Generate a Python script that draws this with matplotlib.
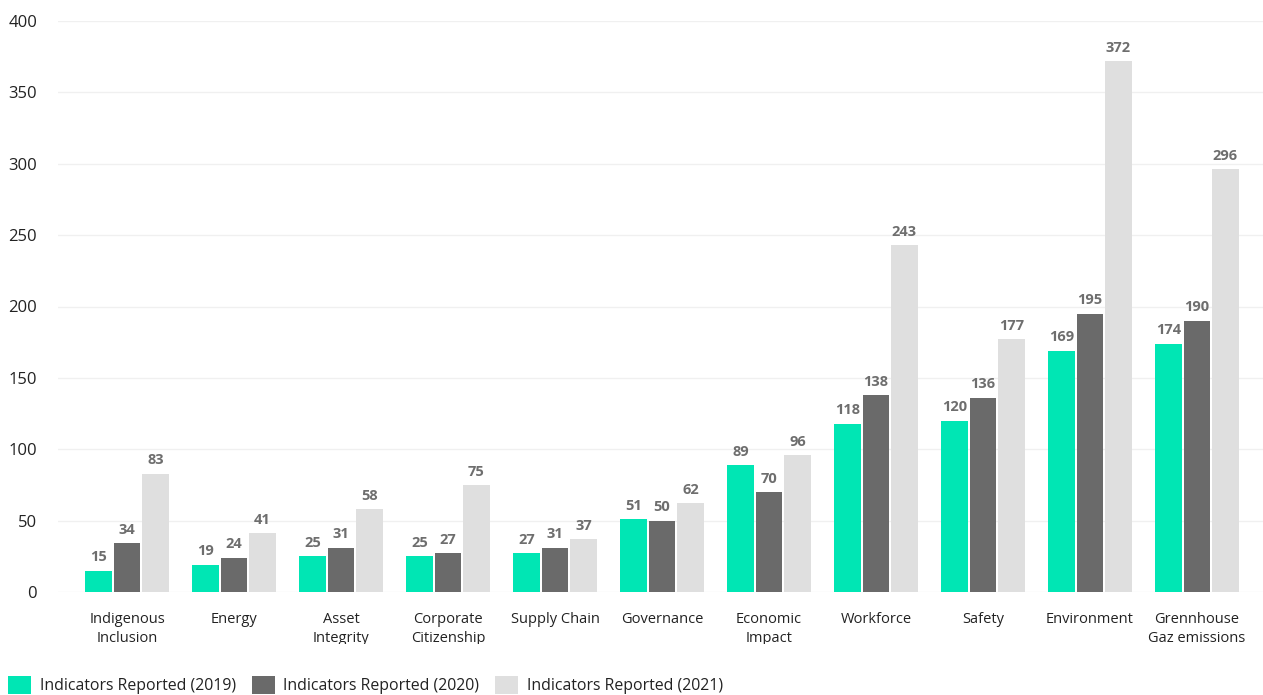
import matplotlib
matplotlib.use("Agg")
import matplotlib.pyplot as plt
from matplotlib.patches import Patch
from matplotlib.transforms import Bbox, TransformedBbox, blended_transform_factory
import numpy as np

categories = ["Indigenous\nInclusion", "Energy", "Asset\nIntegrity", "Corporate\nCitizenship",
              "Supply Chain", "Governance", "Economic\nImpact", "Workforce", "Safety",
              "Environment", "Grennhouse\nGaz emissions"]
values_2019 = [15, 19, 25, 25, 27, 51, 89, 118, 120, 169, 174]
values_2020 = [34, 24, 31, 27, 31, 50, 70, 138, 136, 195, 190]
values_2021 = [83, 41, 58, 75, 37, 62, 96, 243, 177, 372, 296]
series_labels = ["Indicators Reported (2019)", "Indicators Reported (2020)",
                 "Indicators Reported (2021)"]
colors = ["#00E6B4", "#6A6A6A", "#DFDFDF"]

plt.rcParams["font.family"] = ["Open Sans", "DejaVu Sans"]

W, H = 1263, 695
fig = plt.figure(figsize=(W / 100, H / 100), dpi=100)
ax = fig.add_axes([58 / W, (H - 592) / H, 1205 / W, (592 - 21) / H])

x = np.arange(len(categories))
width = 0.245
offset = 0.266
for k, vals in enumerate([values_2019, values_2020, values_2021]):
    pos = x + (k - 1) * offset
    bars = ax.bar(pos, vals, width=width, color=colors[k], zorder=2)
    for b, v in zip(bars, vals):
        ax.text(b.get_x() + b.get_width() / 2, v + 4.5, str(v), ha="center", va="bottom",
                fontsize=10.5, fontweight="bold", color="#6E6E6E")

ax.set_ylim(0, 400)
ax.set_xlim(-0.645, 10.617)
ax.set_yticks(range(0, 401, 50))
ax.yaxis.grid(True, color="#F0F0F0", linewidth=1, zorder=0)
ax.set_axisbelow(True)
for s in ax.spines.values():
    s.set_visible(False)
ax.tick_params(axis="both", length=0)
ax.tick_params(axis="y", pad=15, labelsize=12, labelcolor="#222222")
ax.set_xticks(x)
ax.set_xticklabels([])

# category names, one text per line; the block is cut off just under the second line
trans = blended_transform_factory(ax.transData, fig.transFigure)
clip = TransformedBbox(Bbox([[0, 51.5 / H], [1, 1]]), fig.transFigure)
baselines = [623, 642]
for xi, name in zip(x, categories):
    for j, line in enumerate(name.split("\n")):
        t = ax.text(xi, (H - baselines[j]) / H, line, transform=trans, ha="center",
                    va="baseline", fontsize=10.5, color="#222222", clip_on=True)
        t.set_clip_box(clip)

handles = [Patch(facecolor=c, edgecolor="none") for c in colors]
fig.legend(handles, series_labels, loc="center left", bbox_to_anchor=(8 / W, (H - 685) / H),
           ncol=3, frameon=False, fontsize=11.4, handlelength=1.45, handleheight=1.4,
           handletextpad=0.55, columnspacing=1.0, borderaxespad=0, borderpad=0,
           labelcolor="#222222")

fig.savefig("out.png", dpi=100)
